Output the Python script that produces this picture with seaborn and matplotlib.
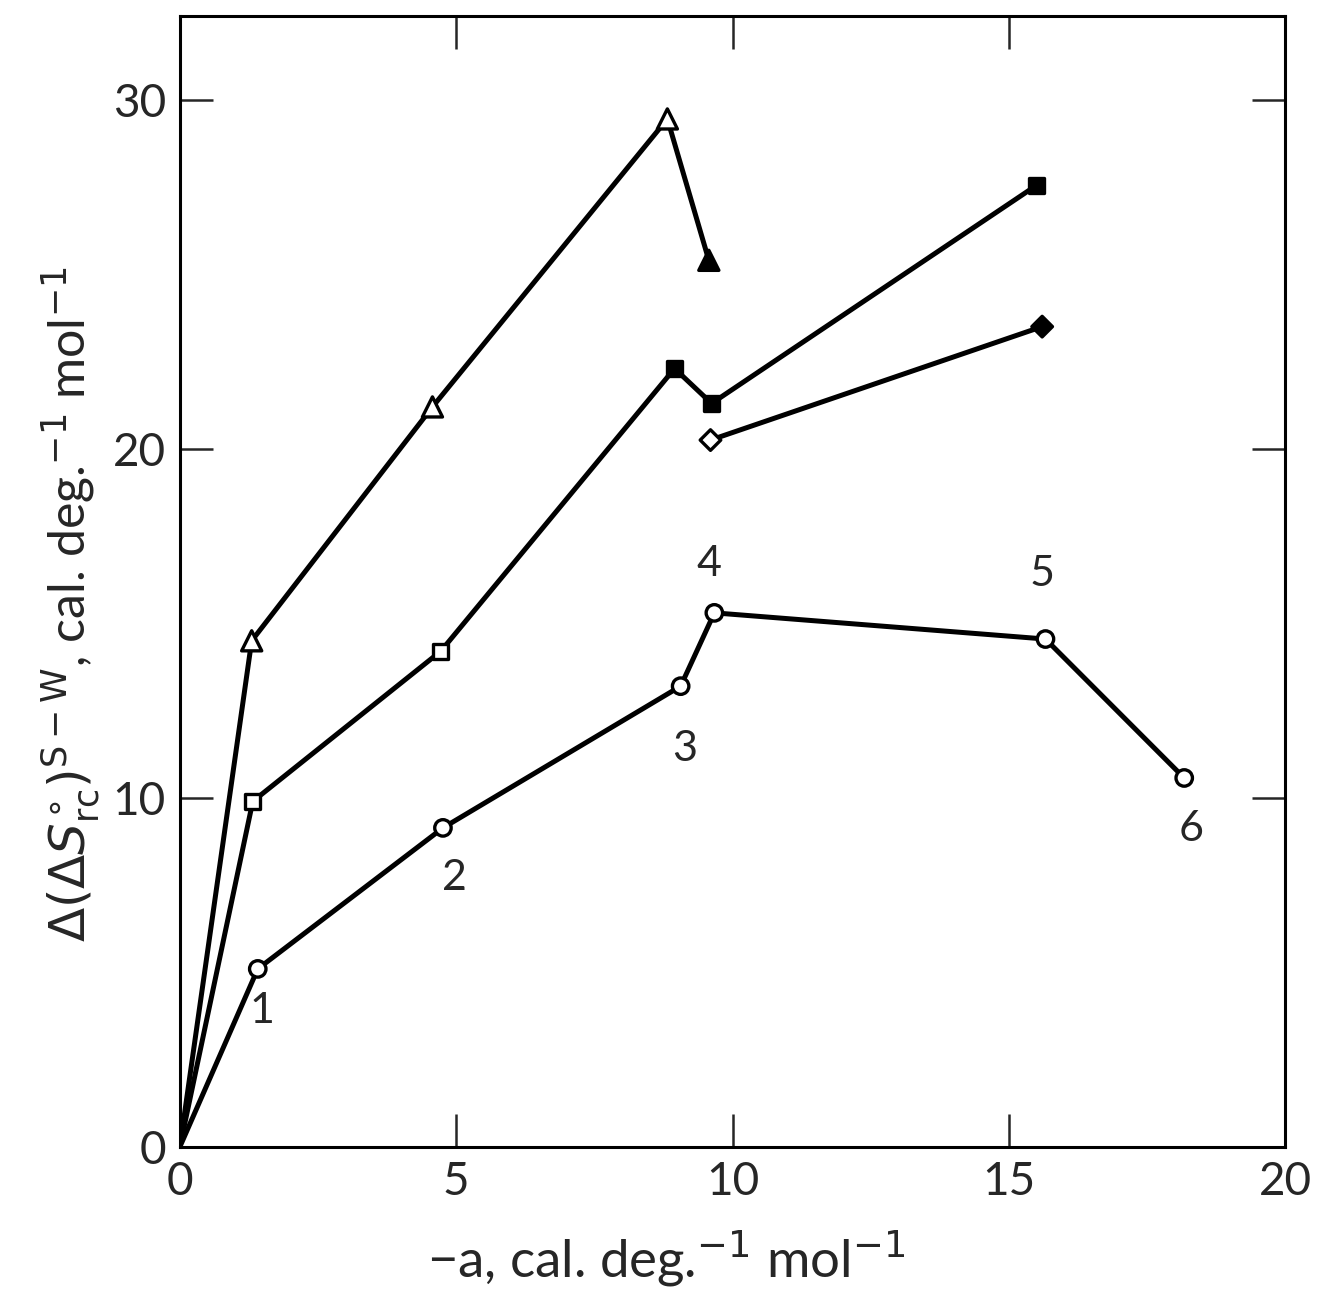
import matplotlib
matplotlib.use("Agg")
import matplotlib.pyplot as plt
import seaborn as sns
import pandas as pd

# values
tri_x = [0, 1.30, 4.57, 8.82, 9.57]
tri_y = [0, 14.5, 21.2, 29.45, 25.4]
tri_filled = [False, False, False, False, True]
sq_x = [0, 1.32, 4.72, 8.95, 9.62, 15.5]
sq_y = [0, 9.9, 14.2, 22.3, 21.3, 27.55]
sq_filled = [False, False, False, True, True, True]
dia_x = [9.6, 15.6]
dia_y = [20.25, 23.5]
dia_filled = [False, True]
circ_x = [0, 1.41, 4.76, 9.06, 9.67, 15.66, 18.17]
circ_y = [0, 5.1, 9.14, 13.2, 15.3, 14.55, 10.57]
point_labels = ["1", "2", "3", "4", "5", "6"]
label_x = [1.48, 4.97, 9.13, 9.58, 15.6, 18.3]
label_y = [3.9, 7.7, 11.4, 16.7, 16.4, 9.1]

sns.set_theme(style="ticks")
plt.rcParams['font.family'] = ['Lato', 'DejaVu Sans']
plt.rcParams['mathtext.fontset'] = 'dejavusans'

fig = plt.figure(figsize=(13.32, 12.97), dpi=100)
ax = fig.add_axes([0.135, 0.1157, 0.83, 0.872])

series = [
    (tri_x, tri_y, tri_filled, '^', 210),
    (sq_x, sq_y, sq_filled, 's', 120),
    (dia_x, dia_y, dia_filled, 'D', 110),
    (circ_x, circ_y, [False] * len(circ_y), 'o', 140),
]

for xs, ys, filled, mk, size in series:
    df = pd.DataFrame({'x': xs, 'y': ys})
    sns.lineplot(data=df, x='x', y='y', sort=False, color='black',
                 linewidth=3.6, ax=ax, zorder=2)
    # no marker at the origin
    pts = df.iloc[1:] if xs[0] == 0 else df
    fl = filled[1:] if xs[0] == 0 else filled
    faces = ['black' if f else 'white' for f in fl]
    ax.scatter(pts['x'], pts['y'], marker=mk, s=size, facecolors=faces,
               edgecolors='black', linewidths=2.4, zorder=3)

for t, lx, ly in zip(point_labels, label_x, label_y):
    ax.text(lx, ly, t, fontsize=31, ha='center', va='center')

ax.set_xlim(0, 20)
ax.set_ylim(0, 32.4)
ax.set_xticks([0, 5, 10, 15, 20])
ax.set_yticks([0, 10, 20, 30])
ax.tick_params(axis='both', direction='in', length=24, width=1.8,
               labelsize=33, top=True, right=True, pad=10)

for sp in ax.spines.values():
    sp.set_linewidth(2.2)
    sp.set_color('black')

ax.set_xlabel(r"−a, cal. deg.$^{-1}$ mol$^{-1}$", fontsize=38)
ax.set_ylabel(r"$\Delta(\Delta S^{\circ}_{\rm rc})^{\rm S-W}$, cal. deg.$^{-1}$ mol$^{-1}$",
              fontsize=36)
ax.xaxis.set_label_coords(0.44, -0.072)
ax.yaxis.set_label_coords(-0.07, 0.48)

fig.savefig("out.png", dpi=100, facecolor='white')
